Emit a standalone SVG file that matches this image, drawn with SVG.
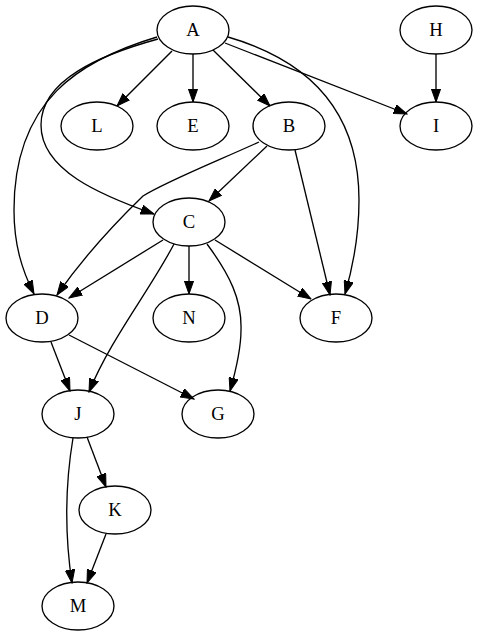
<svg xmlns="http://www.w3.org/2000/svg" width="504" height="633" viewBox="0 0 504 633">
<defs>
<marker id="ah" markerUnits="userSpaceOnUse" markerWidth="14" markerHeight="10" refX="13.3" refY="5" orient="auto">
<path d="M0,0.3 L13.3,5 L0,9.7 Z" fill="#000" stroke="#000" stroke-width="1"/>
</marker>
<style>
.n ellipse{fill:none;stroke:#000;stroke-width:1.33}
.n text{font-family:"Liberation Serif","Times New Roman",serif;font-size:18.67px;text-anchor:middle;fill:#000}
.e path{fill:none;stroke:#000;stroke-width:1.33;marker-end:url(#ah)}
</style>
</defs>
<rect width="504" height="633" fill="#fff"/>
<g id="edges" class="e">
<path d="M172,51 L117,106"/>
<path d="M193,54 L193,102"/>
<path d="M213,50 L270,106"/>
<path d="M225,43 L407,114"/>
<path d="M436,54 L436,102"/>
<path d="M228,37 C290,55 359,95 359,200 C359,240 352,270 345,294"/>
<path d="M157,37 C80,60 14,100 14,210 C14,245 22,270 34,294"/>
<path d="M158,39 C100,55 41,80 41,125 C41,170 100,195 154,214"/>
<path d="M259,142 C215,162 165,182 143,196 C110,228 80,262 57,295"/>
<path d="M267,146 L209,201"/>
<path d="M295,150 L330,295"/>
<path d="M163,240 L69,298"/>
<path d="M174,244 C150,290 110,340 89,392"/>
<path d="M189,246 L189,294"/>
<path d="M207,244 C230,275 242,300 241,330 C241,350 236,370 230,391"/>
<path d="M215,240 L311,299"/>
<path d="M51,342 L70,391"/>
<path d="M69,335 L194,399"/>
<path d="M87,437 L106,487"/>
<path d="M73,438 C66,480 64,530 72,583"/>
<path d="M106,534 L87,583"/>
</g>
<g id="A" class="n"><ellipse cx="193" cy="30" rx="36" ry="24"/><text x="193" y="36">A</text></g>
<g id="H" class="n"><ellipse cx="436" cy="30" rx="36" ry="24"/><text x="436" y="36">H</text></g>
<g id="L" class="n"><ellipse cx="97" cy="126" rx="36" ry="24"/><text x="97" y="132">L</text></g>
<g id="E" class="n"><ellipse cx="193" cy="126" rx="36" ry="24"/><text x="193" y="132">E</text></g>
<g id="B" class="n"><ellipse cx="289" cy="126" rx="36" ry="24"/><text x="289" y="132">B</text></g>
<g id="I" class="n"><ellipse cx="436" cy="126" rx="36" ry="24"/><text x="436" y="132">I</text></g>
<g id="C" class="n"><ellipse cx="189" cy="222" rx="36" ry="24"/><text x="189" y="228">C</text></g>
<g id="D" class="n"><ellipse cx="42" cy="318" rx="36" ry="24"/><text x="42" y="324">D</text></g>
<g id="N" class="n"><ellipse cx="189" cy="318" rx="36" ry="24"/><text x="189" y="324">N</text></g>
<g id="F" class="n"><ellipse cx="336" cy="318" rx="36" ry="24"/><text x="336" y="324">F</text></g>
<g id="J" class="n"><ellipse cx="78" cy="414" rx="36" ry="24"/><text x="78" y="420">J</text></g>
<g id="G" class="n"><ellipse cx="218" cy="414" rx="36" ry="24"/><text x="218" y="420">G</text></g>
<g id="K" class="n"><ellipse cx="115" cy="510" rx="36" ry="24"/><text x="115" y="516">K</text></g>
<g id="M" class="n"><ellipse cx="78" cy="606" rx="36" ry="24"/><text x="78" y="612">M</text></g>
</svg>
